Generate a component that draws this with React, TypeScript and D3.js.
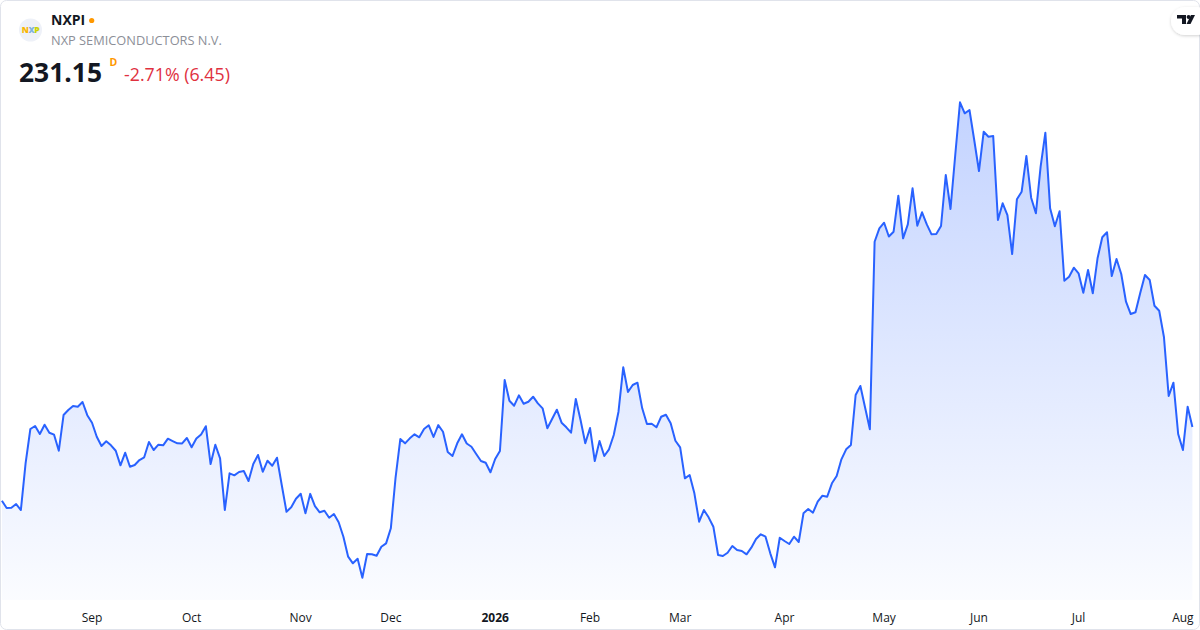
import React from 'react';
import * as d3 from 'd3';

// daily closes, Aug 5 2025 -> Aug 5 2026
const prices: number[] = [
  207.73, 205.41, 205.5, 206.68, 204.77, 219.7, 230.51, 231.46, 228.92, 231.87,
  229.33, 228.7, 223.61, 234.95, 236.54, 237.81, 237.59, 239.08, 234.9, 232.51,
  228.06, 225.11, 226.6, 225.33, 223.6, 218.97, 222.98, 218.53, 219.07, 220.66,
  221.52, 226.38, 223.83, 225.52, 225.33, 227.43, 226.69, 225.96, 225.92, 227.65,
  224.69, 227.49, 228.76, 231.4, 219.39, 225.52, 221.2, 204.77, 216.43, 215.8,
  216.85, 217.16, 213.99, 219.4, 222.25, 216.9, 220.44, 218.85, 221.39, 212.72,
  204.23, 205.63, 208.36, 209.95, 203.72, 209.9, 206.04, 204.04, 204.55, 202.33,
  203.5, 200.87, 196.29, 189.94, 187.84, 189.3, 183.27, 190.79, 190.7, 190.25,
  193.11, 194.19, 198.96, 215.1, 227.33, 225.96, 227.55, 228.82, 227.87, 230.51,
  231.68, 227.97, 231.75, 229.65, 223.2, 221.93, 225.96, 228.82, 225.9, 224.88,
  222.56, 220.34, 219.8, 216.75, 220.98, 223.52, 246.07, 239.5, 237.91, 241.21,
  238.54, 239.18, 240.77, 238.67, 237.08, 230.73, 233.68, 236.64, 232.51, 231.05,
  229.33, 240.04, 233.37, 225.96, 230.82, 220.34, 226.69, 221.93, 224.06, 228.6,
  236.0, 250.11, 242.26, 244.49, 245.22, 237.08, 232.1, 232.19, 231.05, 234.41,
  235.05, 232.32, 226.79, 224.69, 214.84, 215.89, 210.08, 201.06, 204.77, 202.45,
  199.47, 190.48, 190.16, 191.21, 193.34, 192.06, 191.75, 190.7, 192.8, 195.56,
  197.05, 196.29, 191.02, 186.57, 195.97, 194.92, 193.97, 196.3, 194.61, 203.72,
  205.09, 203.92, 207.41, 209.32, 209.0, 213.26, 215.57, 220.88, 224.06, 225.42,
  241.31, 244.17, 237.27, 230.41, 290.01, 294.27, 296.05, 291.66, 293.19, 304.63,
  291.09, 295.54, 306.98, 295.1, 299.35, 295.5, 292.36, 292.46, 295.0, 311.2,
  300.4, 317.56, 334.3, 330.8, 331.85, 322.32, 312.47, 324.96, 323.37, 323.59,
  296.91, 302.21, 298.49, 286.1, 303.48, 305.9, 317.24, 303.99, 299.03, 313.84,
  324.64, 300.62, 294.9, 299.67, 277.62, 278.89, 281.75, 279.97, 273.81, 281.02,
  273.62, 284.74, 291.41, 293.0, 279.11, 284.52, 279.75, 270.95, 267.04, 267.58,
  273.7, 279.43, 277.84, 269.68, 268.09, 259.74, 240.99, 245.22, 228.92, 223.83,
  237.6, 231.15,
];

const firstDay = '2025-08-05';
const holidays = [
  '2025-09-01', '2025-11-27', '2025-12-25', '2026-01-01', '2026-01-19',
  '2026-02-16', '2026-04-03', '2026-05-25', '2026-06-19', '2026-07-03',
];

const ticker = 'NXPI';
const company = 'NXP SEMICONDUCTORS N.V.';

const font = "'Open Sans', 'Noto Sans', sans-serif";

function tradingDays(startIso: string, count: number): Date[] {
  const out: Date[] = [];
  let t = Date.parse(startIso + 'T00:00:00Z');
  while (out.length < count) {
    const d = new Date(t);
    const dow = d.getUTCDay();
    const iso = d.toISOString().slice(0, 10);
    if (dow !== 0 && dow !== 6 && !holidays.includes(iso)) out.push(d);
    t += 86400000;
  }
  return out;
}

const App: React.FC = () => {
  const width = 1200;
  const height = 630;
  const n = prices.length;
  const dates = tradingDays(firstDay, n);

  const x = d3.scaleLinear().domain([0, n - 1]).range([1.9, 1192.4]);
  const [lo, hi] = d3.extent(prices) as [number, number];
  const y = d3.scaleLinear().domain([lo, hi]).range([577.7, 102.3]);
  const bottom = 600;

  const line = d3.line<number>().x((_, i) => x(i)).y(d => y(d));
  const area = d3.area<number>().x((_, i) => x(i)).y0(bottom).y1(d => y(d));

  const monthFmt = d3.utcFormat('%b');
  const ticks = dates
    .map((d, i) => ({ d, i }))
    .filter(({ d, i }) => i > 0 && d.getUTCMonth() !== dates[i - 1].getUTCMonth())
    .map(({ d, i }) => ({
      i,
      label: d.getUTCMonth() === 0 ? String(d.getUTCFullYear()) : monthFmt(d),
      bold: d.getUTCMonth() === 0,
    }));

  const last = prices[n - 1];
  const prev = prices[n - 2];
  const chg = last - prev;
  const pct = (chg / prev) * 100;
  const chgText = `${pct.toFixed(2)}% (${Math.abs(chg).toFixed(2)})`;

  return (
    <>
      <style>{`body{margin:0}`}</style>
      <svg width={width} height={height} style={{ display: 'block', fontFamily: font }}>
        <defs>
          <linearGradient id="fillGrad" gradientUnits="userSpaceOnUse" x1="0" y1="100" x2="0" y2={bottom}>
            <stop offset="0%" stopColor="#2962ff" stopOpacity={0.28} />
            <stop offset="100%" stopColor="#2962ff" stopOpacity={0.02} />
          </linearGradient>
          <filter id="pillShadow" x="-50%" y="-50%" width="200%" height="200%">
            <feDropShadow dx="0" dy="1" stdDeviation="1.5" floodColor="#000" floodOpacity="0.18" />
          </filter>
        </defs>

        <rect x={0.5} y={0.5} width={width - 1} height={height - 1} rx={6} fill="#fff" stroke="#e0e3eb" />

        <path d={area(prices) || ''} fill="url(#fillGrad)" />
        <path d={line(prices) || ''} fill="none" stroke="#2962ff" strokeWidth={2} strokeLinejoin="round" />

        {ticks.map(t => (
          <text
            key={t.i}
            x={x(t.i)}
            y={622}
            textAnchor="middle"
            fontSize={12}
            fontWeight={t.bold ? 700 : 400}
            fill="#131722"
          >
            {t.label}
          </text>
        ))}

        {/* header */}
        <circle cx={30.5} cy={30} r={11.5} fill="#eef1f8" />
        <text x={30.5} y={33} textAnchor="middle" fontSize={8.5} fontWeight={800} letterSpacing={-0.4}>
          <tspan fill="#f9b500">N</tspan>
          <tspan fill="#7fb2dc">X</tspan>
          <tspan fill="#c9d200">P</tspan>
        </text>
        <text x={51} y={25} fontSize={14} fontWeight={700} fill="#131722">{ticker}</text>
        <circle cx={91.7} cy={20.5} r={2.6} fill="#ff9800" />
        <text x={51} y={45} fontSize={12.8} fill="#8c8f98">{company}</text>
        <text x={19} y={82} fontSize={26.4} fontWeight={700} fill="#131722">{last.toFixed(2)}</text>
        <text x={109.5} y={65.5} fontSize={10.5} fontWeight={700} fill="#ff9800">D</text>
        <text x={124} y={81} fontSize={17.8} fill="#e0313f">{chgText}</text>

        {/* logo pill */}
        <rect x={1171} y={7} width={40} height={28} rx={14} fill="#fff" filter="url(#pillShadow)" />
        <g fill="#131722">
          <path d="M1177,15 h9 v9 h-4 v-5.5 h-5 z" />
          <circle cx={1188.6} cy={17} r={2} />
          <path d="M1191,15 h4 l-4.5,9 h-4 z" />
        </g>
      </svg>
    </>
  );
};

export default App;
